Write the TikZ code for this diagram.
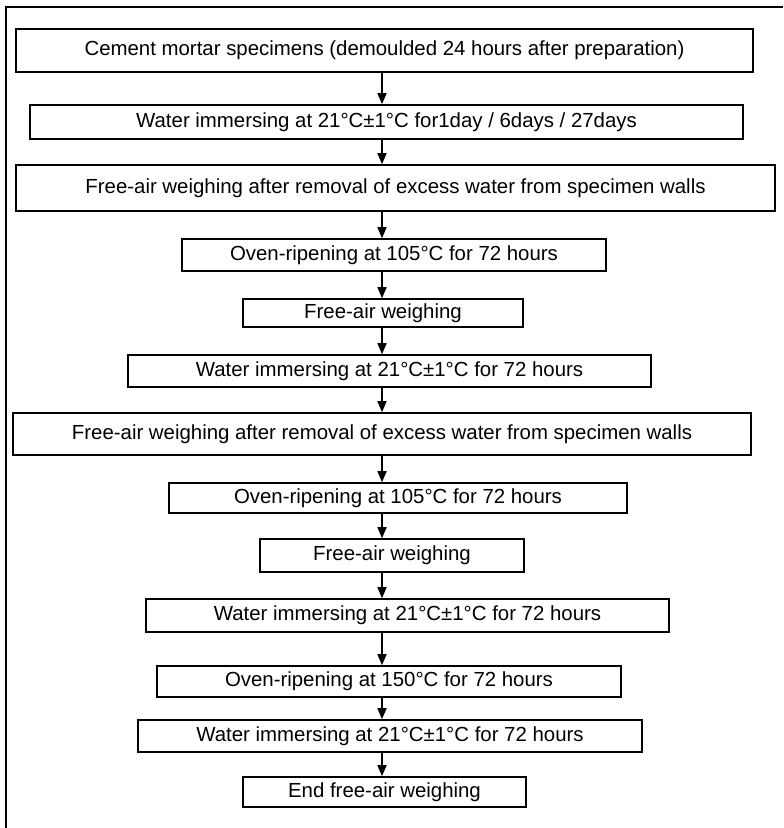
\documentclass[tikz,border=0pt]{standalone}
\usepackage{fontspec}
\setmainfont{Liberation Sans}
\usepackage{tikz}
\usetikzlibrary{arrows.meta}

\begin{document}
\begin{tikzpicture}[x=0.5pt,y=-0.5pt,
	stage/.style={draw, line width=0.8pt, inner sep=0pt, font=\fontsize{10.2}{12}\selectfont},
	flow/.style={line width=0.8pt, -{Triangle[length=5.5pt,width=4.5pt]}}]
\useasboundingbox (0,0) rectangle (783,828);
% frame
\draw [line width=1pt] (6,828) -- (6,7) -- (783,7);
\coordinate (axis) at (382,0);
\node [stage, minimum width=368.5pt, minimum height=21.5pt] (cast) at (384.5,50.5) {Cement mortar specimens (demoulded 24 hours after preparation)};
\node [stage, minimum width=356.5pt, minimum height=17pt] (soak1) at (386.5,122) {Water immersing at 21°C±1°C for1day / 6days / 27days};
\node [stage, minimum width=379.5pt, minimum height=23pt] (wet1) at (395.5,188) {Free-air weighing after removal of excess water from specimen walls};
\node [stage, minimum width=212pt, minimum height=16pt] (oven1) at (394,255) {Oven-ripening at 105°C for 72 hours};
\node [stage, minimum width=140pt, minimum height=14pt] (dry1) at (383,313) {Free-air weighing};
\node [stage, minimum width=261.5pt, minimum height=16pt] (soak2) at (389.5,371) {Water immersing at 21°C±1°C for 72 hours};
\node [stage, minimum width=369pt, minimum height=21pt] (wet2) at (382,434) {Free-air weighing after removal of excess water from specimen walls};
\node [stage, minimum width=229pt, minimum height=15pt] (oven2) at (398,498) {Oven-ripening at 105°C for 72 hours};
\node [stage, minimum width=132pt, minimum height=16.5pt] (dry2) at (392,555.5) {Free-air weighing};
\node [stage, minimum width=261.5pt, minimum height=16.5pt] (soak3) at (407.5,615.5) {Water immersing at 21°C±1°C for 72 hours};
\node [stage, minimum width=232pt, minimum height=15.5pt] (oven3) at (389,681.5) {Oven-ripening at 150°C for 72 hours};
\node [stage, minimum width=252pt, minimum height=16pt] (soak4) at (390,736) {Water immersing at 21°C±1°C for 72 hours};
\node [stage, minimum width=141.5pt, minimum height=15pt] (last) at (384.5,792) {End free-air weighing};
% arrows
\draw [flow] (cast.south -| axis) -- (soak1.north -| axis);
\draw [flow] (soak1.south -| axis) -- (wet1.north -| axis);
\draw [flow] (wet1.south -| axis) -- (oven1.north -| axis);
\draw [flow] (oven1.south -| axis) -- (dry1.north -| axis);
\draw [flow] (dry1.south -| axis) -- (soak2.north -| axis);
\draw [flow] (soak2.south -| axis) -- (wet2.north -| axis);
\draw [flow] (wet2.south -| axis) -- (oven2.north -| axis);
\draw [flow] (oven2.south -| axis) -- (dry2.north -| axis);
\draw [flow] (dry2.south -| axis) -- (soak3.north -| axis);
\draw [flow] (soak3.south -| axis) -- (oven3.north -| axis);
\draw [flow] (oven3.south -| axis) -- (soak4.north -| axis);
\draw [flow] (soak4.south -| axis) -- (last.north -| axis);
\end{tikzpicture}
\end{document}
